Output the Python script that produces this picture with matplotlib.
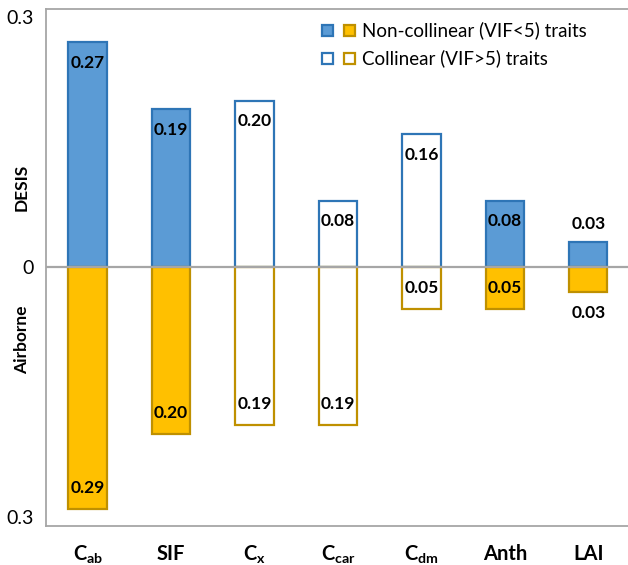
import matplotlib
matplotlib.use("Agg")
import matplotlib.pyplot as plt
from matplotlib.patches import Rectangle

plt.rcParams['font.family'] = ['Lato', 'DejaVu Sans']
plt.rcParams['mathtext.fontset'] = 'custom'
plt.rcParams['mathtext.rm'] = 'Lato'
plt.rcParams['mathtext.bf'] = 'Lato:bold'
plt.rcParams['mathtext.default'] = 'bf'

# importancia dos traits por sensor
traits = [r'$C_{ab}$', 'SIF', r'$C_{x}$', r'$C_{car}$', r'$C_{dm}$', 'Anth', 'LAI']
desis = [0.27, 0.19, 0.20, 0.08, 0.16, 0.08, 0.03]
airborne = [0.29, 0.20, 0.19, 0.19, 0.05, 0.05, 0.03]
collinear = [False, False, True, True, True, False, False]

BLUE, BLUE_EDGE = '#5B9BD5', '#2E75B6'
GOLD, GOLD_EDGE = '#FFC000', '#BF9000'
GREY = '#A6A6A6'


def main():
    fig = plt.figure(figsize=(6.28, 5.65), dpi=100)
    ax = fig.add_axes([0.0732, 0.069, 0.93, 0.915])

    x = list(range(len(traits)))
    w = 0.46
    for i in x:
        hollow = collinear[i]
        ax.bar(i, desis[i], w, color='white' if hollow else BLUE,
               edgecolor=BLUE_EDGE, linewidth=1.6, zorder=2)
        ax.bar(i, -airborne[i], w, color='white' if hollow else GOLD,
               edgecolor=GOLD_EDGE, linewidth=1.6, zorder=2)

        # rotulos de valor (fora da barra quando ela e muito curta)
        up = -15 if desis[i] > 0.05 else 13
        ax.annotate(f'{desis[i]:.2f}', (i, desis[i]), xytext=(0, up),
                    textcoords='offset points', ha='center', va='center',
                    fontsize=12.5, fontweight='bold', zorder=3)
        dn = 15 if airborne[i] > 0.04 else -15
        ax.annotate(f'{airborne[i]:.2f}', (i, -airborne[i]), xytext=(0, dn),
                    textcoords='offset points', ha='center', va='center',
                    fontsize=12.5, fontweight='bold', zorder=3)

    ax.axhline(0, color=GREY, linewidth=1.6, zorder=3)

    ax.set_xlim(-0.5, 6.5)
    ax.set_ylim(-0.311, 0.31)
    ax.set_yticks([-0.3, 0, 0.3])
    ax.set_yticklabels(['0.3', '0', '0.3'], fontsize=14)
    ax.set_xticks(x)
    ax.set_xticklabels(traits, fontsize=14.5, fontweight='bold')
    ax.tick_params(axis='both', length=0)
    ax.tick_params(axis='y', pad=9)
    ax.tick_params(axis='x', pad=13)
    for side in ['left', 'top', 'bottom']:
        ax.spines[side].set_color(GREY)
        ax.spines[side].set_linewidth(1.3)
    ax.spines['right'].set_visible(False)

    fig.text(22 / 628, 1 - 187 / 565, 'DESIS', rotation=90, ha='center',
             va='center', fontsize=12.5, fontweight='bold')
    fig.text(22 / 628, 1 - 340 / 565, 'Airborne', rotation=90, ha='center',
             va='center', fontsize=12.5, fontweight='bold')

    # legenda feita a mao: dois quadrados por linha
    rows = [('Non-collinear (VIF<5) traits', False, 1 - 30 / 565),
            ('Collinear (VIF>5) traits', True, 1 - 58 / 565)]
    s = 11
    for label, hollow, yc in rows:
        for x0, fc, ec in [(322, BLUE, BLUE_EDGE), (344, GOLD, GOLD_EDGE)]:
            fig.patches.append(Rectangle(
                (x0 / 628, yc - s / 2 / 565), s / 628, s / 565,
                transform=fig.transFigure, figure=fig,
                facecolor='white' if hollow else fc, edgecolor=ec, linewidth=1.6))
        fig.text(362 / 628, yc, label, ha='left', va='center', fontsize=13.5)

    fig.savefig('out.png', dpi=100)


if __name__ == "__main__":
    main()
